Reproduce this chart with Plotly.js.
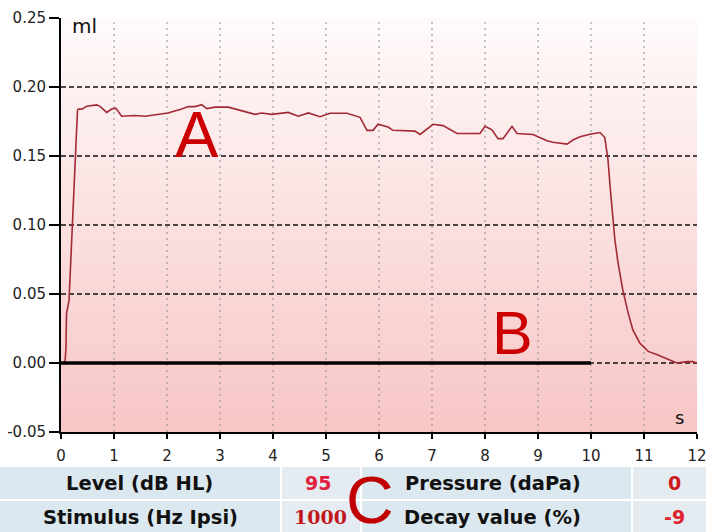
<!DOCTYPE html>
<html><head><meta charset="utf-8">
<script src="https://cdn.plot.ly/plotly-3.0.1.min.js"></script>
<style>html,body{margin:0;padding:0;background:#fff;} #chart{width:706px;height:532px;}</style>
</head><body><div id="chart"></div>
<script>
// ---- data ----
const timeS = [0,0.075,0.094,0.104,0.151,0.208,0.264,0.274,0.311,
  0.326,0.391,0.485,0.674,0.736,0.862,0.957,1.032,1.145,1.396,
  1.585,1.774,2.019,2.277,2.402,2.528,2.655,2.749,2.906,3.157,
  3.283,3.472,3.660,3.787,3.975,4.289,4.477,4.666,4.887,5.075,
  5.396,5.642,5.774,5.887,5.981,6.170,6.264,6.679,6.774,7.019,
  7.208,7.472,7.906,8.0,8.132,8.245,8.340,8.509,8.604,8.906,
  9.170,9.283,9.547,9.660,9.792,9.981,10.17,10.26,10.32,10.36,
  10.41,10.45,10.51,10.60,10.70,10.79,10.92,11.08,11.25,11.43,
  11.62,11.81,11.92,12.0];
const volumeMl = [0,0.0,0.011,0.036,0.045,0.096,0.149,0.155,0.183,
  0.184,0.184,0.186,0.187,0.186,0.1816,0.184,0.1847,0.1788,0.1793,
  0.1788,0.180,0.1812,0.184,0.1858,0.1858,0.1872,0.1844,0.1854,0.1854,
  0.184,0.1823,0.1802,0.1812,0.1802,0.1816,0.1788,0.1812,0.1785,0.181,
  0.181,0.178,0.1686,0.1686,0.173,0.171,0.1686,0.168,0.1656,0.173,
  0.172,0.1663,0.1663,0.1715,0.169,0.1626,0.1626,0.1715,0.1663,0.1656,
  0.161,0.160,0.1586,0.1616,0.164,0.1658,0.167,0.1634,0.1476,0.128,
  0.1065,0.0895,0.0726,0.053,0.0363,0.024,0.0145,0.0084,0.006,0.0029,
  0.0,0.001,0.001,0.0];
const baselineS = [0, 10];
const baselineMl = [0, 0];
const xTicks = [0,1,2,3,4,5,6,7,8,9,10,11,12];
const yTicks = [-0.05,0,0.05,0.10,0.15,0.20,0.25];
const yTickText = ['-0.05','0.00','0.05','0.10','0.15','0.20','0.25'];
const hGrid = [0,0.05,0.10,0.15,0.20];
const vGrid = [1,2,3,4,5,6,7,8,9,10,11];
const yUnit = 'ml';
const xUnit = 's';
const tableLabels = ['Level (dB HL)','Stimulus (Hz Ipsi)','Pressure (daPa)','Decay value (%)'];
const tableValues = ['95','1000','0','-9'];
const markerLetters = ['A','B','C'];

// ---- layout geometry (pixels) ----
const W = 706, H = 532;
const M = {l:61, r:9, t:18, b:100};
const PW = W - M.l - M.r, PH = H - M.t - M.b;
const xp = px => (px - M.l) / PW;
const yp = py => (H - M.b - py) / PH;

const svg = "<svg xmlns='http://www.w3.org/2000/svg' width='100' height='100' preserveAspectRatio='none'>" +
  "<defs><linearGradient id='g' x1='0' y1='0' x2='0' y2='1'>" +
  "<stop offset='0' stop-color='#fffafa'/><stop offset='0.45' stop-color='#fbe2e2'/>" +
  "<stop offset='1' stop-color='#f7c6c5'/></linearGradient></defs>" +
  "<rect width='100' height='100' fill='url(#g)'/></svg>";

const shapes = [];
// table cells
const rowsPx = [[467,499],[501,532]];
const colsPx = [[0,280,'#dce8ef'],[282,360,'#e4ecf1'],[362,631,'#dce8ef'],[633,706,'#e4ecf1']];
rowsPx.forEach(r => colsPx.forEach(c => shapes.push({
  type:'rect', xref:'paper', yref:'paper', x0:xp(c[0]), x1:xp(c[1]), y0:yp(r[1]), y1:yp(r[0]),
  fillcolor:c[2], line:{width:0}, layer:'below'})));
// grid lines
vGrid.forEach(v => shapes.push({type:'line', xref:'x', yref:'paper', x0:v, x1:v, y0:0, y1:1,
  line:{color:'#8c8c8c', width:1, dash:'2px,4px'}, layer:'below'}));
hGrid.forEach(v => shapes.push({type:'line', xref:'paper', yref:'y', x0:0, x1:1, y0:v, y1:v,
  line:{color:'#111', width:1.5, dash:'5px,3px'}, layer:'below'}));

const lblFont = {family:'DejaVu Sans', size:19.5, color:'#111', weight:'bold'};
const annotations = [
  {text:yUnit, x:xp(70), y:yp(26), xanchor:'left', yanchor:'middle', font:{family:'DejaVu Sans', size:20, color:'#111'}},
  {text:xUnit, x:xp(679), y:yp(417), xanchor:'center', yanchor:'middle', font:{family:'DejaVu Sans', size:18, color:'#111'}},
  {text:markerLetters[0], x:xp(197), y:yp(134), xanchor:'center', yanchor:'middle', font:{family:'Liberation Sans', size:65, color:'#cc0000'}},
  {text:markerLetters[1], x:xp(512), y:yp(333), xanchor:'center', yanchor:'middle', font:{family:'Liberation Sans', size:61, color:'#cc0000'}},
  {text:markerLetters[2], x:xp(370), y:yp(500), xanchor:'center', yanchor:'middle', height:62, borderpad:0,
    font:{family:'Liberation Sans', size:66, color:'#c00000'}},
  {text:tableLabels[0], x:xp(139), y:yp(483), font:lblFont},
  {text:tableLabels[1], x:xp(140), y:yp(517), font:lblFont},
  {text:tableLabels[2], x:xp(493), y:yp(483), font:lblFont},
  {text:tableLabels[3], x:xp(492), y:yp(517), font:lblFont},
  {text:tableValues[0], x:xp(318), y:yp(483), font:{family:'DejaVu Sans', size:19, color:'#e0203c', weight:'bold'}},
  {text:tableValues[1], x:xp(320), y:yp(517), font:{family:'DejaVu Serif', size:19, color:'#c0181c', weight:'bold'}},
  {text:tableValues[2], x:xp(674), y:yp(483), font:{family:'DejaVu Sans', size:19, color:'#cc1a1a', weight:'bold'}},
  {text:tableValues[3], x:xp(674), y:yp(517), font:{family:'DejaVu Sans', size:19, color:'#dd1f2e', weight:'bold'}}
].map(a => Object.assign({xref:'paper', yref:'paper', showarrow:false, xanchor:'center', yanchor:'middle'}, a));

const traces = [
  {x:timeS, y:volumeMl, type:'scatter', mode:'lines', line:{color:'#a22a35', width:1.6}, hoverinfo:'skip'},
  {x:baselineS, y:baselineMl, type:'scatter', mode:'lines', line:{color:'#000', width:3.5}, hoverinfo:'skip'}
];

const axisFont = {family:'DejaVu Sans', size:15, color:'#222'};
const layout = {
  width:W, height:H, margin:M, showlegend:false,
  paper_bgcolor:'#fff', plot_bgcolor:'rgba(0,0,0,0)',
  xaxis:{range:[0,12], tickvals:xTicks, ticks:'outside', ticklen:5, tickwidth:1.5, tickcolor:'#000',
    showline:true, linecolor:'#000', linewidth:2, showgrid:false, zeroline:false,
    tickfont:axisFont, ticklabelstandoff:4, ticklabeloverflow:'allow', automargin:false, fixedrange:true},
  yaxis:{range:[-0.05,0.25], tickvals:yTicks, ticktext:yTickText, ticks:'outside', ticklen:10, tickwidth:1.5,
    tickcolor:'#000', showline:true, linecolor:'#000', linewidth:2, showgrid:false, zeroline:false,
    tickfont:axisFont, ticklabelstandoff:0, ticklabeloverflow:'allow', automargin:false, fixedrange:true},
  images:[{source:'data:image/svg+xml;base64,' + btoa(svg), xref:'paper', yref:'paper', x:0, y:1,
    sizex:1, sizey:1, xanchor:'left', yanchor:'top', sizing:'stretch', layer:'below'}],
  shapes:shapes, annotations:annotations
};
Plotly.newPlot('chart', traces, layout, {staticPlot:true, displayModeBar:false});
</script></body></html>
